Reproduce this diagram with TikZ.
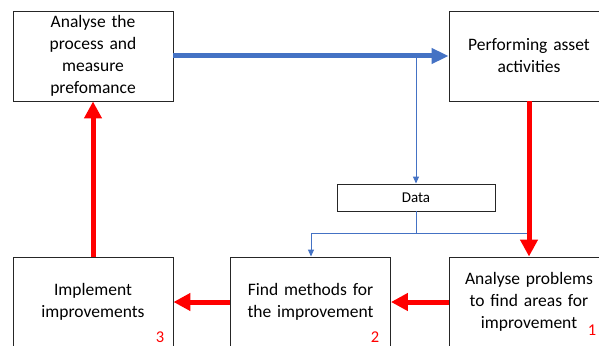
\documentclass[tikz,border=0pt]{standalone}
\usepackage{fontspec}
\setmainfont{Carlito}
\usetikzlibrary{arrows.meta}
\definecolor{ablue}{HTML}{4472C4}
\definecolor{ared}{HTML}{FF0000}
\tikzset{
  procbox/.style={draw=black!85, line width=0.9pt, minimum width=160pt, minimum height=90pt,
    text width=155pt, align=center, font=\fontsize{17.5}{22}\selectfont, inner sep=0pt},
  databox/.style={draw=black!85, line width=0.9pt, minimum width=158pt, minimum height=27pt,
    font=\fontsize{15}{17}\selectfont, inner sep=0pt},
  bigblue/.style={draw=ablue, line width=5pt, -{Triangle[length=17pt,width=15pt]}},
  thinblue/.style={draw=ablue, line width=1pt},
  thinbluearr/.style={thinblue, -{Triangle[length=7pt,width=6pt]}},
  bigred/.style={draw=ared, line width=5pt, -{Triangle[length=17pt,width=17pt]}},
  numlab/.style={text=ared, font=\fontsize{16.5}{16.5}\selectfont, inner sep=0pt}
}
\begin{document}
\begin{tikzpicture}[x=1pt,y=-1pt]
\useasboundingbox (0,0) rectangle (599,345);
\clip (0,0) rectangle (599,345);
\node[procbox] (A) at (93,56) {Analyse the\\process and\\measure\\prefomance};
\node[procbox] (B) at (529,56) {Performing asset\\activities};
\node[databox] (Data) at (416,197.5) {Data};
\node[procbox] (C) at (93,302) {Implement\\improvements};
\node[procbox] (D) at (310.5,302) {Find methods for\\the improvement};
\node[procbox] (E) at (529,302) {Analyse problems\\to find areas for\\improvement};
\node[numlab] (n1) at (592,330) {1};
\node[numlab] (n2) at (375,337) {2};
\node[numlab] (n3) at (160,337) {3};
% connectors
\coordinate (j1) at (416,56);
\coordinate (j2) at (416,233);
\coordinate (j3) at (311,233);
\coordinate (j4) at (527,233);
\draw[thinbluearr] (j1) -- (Data.north);
\draw[thinblue] (Data.south) -- (j2);
\draw[thinblue] (j3) -- (j4);
\draw[thinbluearr] (j3) -- (j3 |- D.north);
\draw[bigblue] (A.east) -- (B.west);
\draw[bigred] (B.south) -- (E.north);
\draw[bigred] (E.west) -- (D.east);
\draw[bigred] (D.west) -- (C.east);
\draw[bigred] (C.north) -- (A.south);
\end{tikzpicture}
\end{document}
